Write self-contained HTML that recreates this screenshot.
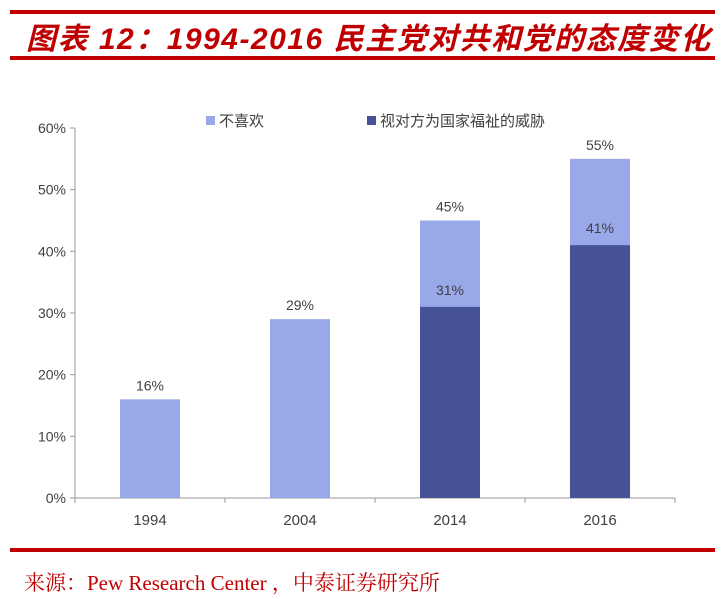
<!DOCTYPE html>
<html><head><meta charset="utf-8"><style>
body{margin:0;width:725px;height:599px;background:#fff;overflow:hidden;font-family:"Liberation Sans","Noto Sans CJK SC",sans-serif}
.title{position:absolute;left:26px;top:14px;font-size:30px;letter-spacing:1.5px;font-weight:bold;font-style:italic;color:#c00000;font-family:"Liberation Sans","Noto Sans CJK SC",sans-serif}
.line{position:absolute;left:10px;width:705px;height:4px;background:#c00000}
.src{position:absolute;left:24px;top:567px;font-size:21px;color:#c00000;font-family:"Liberation Serif","Noto Serif CJK SC",serif}
</style></head><body>
<div class="line" style="top:10px"></div>
<div class="title">图表 12：1994-2016 民主党对共和党的态度变化</div>
<div class="line" style="top:56px"></div>
<svg id="chart" width="725" height="599" style="position:absolute;left:0;top:0"></svg>
<div class="line" style="top:548px"></div>
<div class="src">来源：Pew Research Center ，中泰证券研究所</div>
<script>
const categories=["1994","2004","2014","2016"];
const dislike=[16,29,45,55];
const threat=[0,0,31,41];
const yTicks=[0,10,20,30,40,50,60];
const NS="http://www.w3.org/2000/svg";
const svg=document.getElementById('chart');
const x0=75,x1=675,yb=498,yt=128,yMax=60;
const band=(x1-x0)/categories.length,bw=60;
const y=v=>yb-(v/yMax)*(yb-yt);
const xc=i=>x0+band*(i+0.5);
function mk(t,a){const e=document.createElementNS(NS,t);for(const k in a)e.setAttribute(k,a[k]);svg.appendChild(e);return e;}
const ax=mk('line',{x1:x0,y1:yt,x2:x0,y2:yb,stroke:'#999'});


const bx=mk('line',{x1:x0,y1:yb,x2:x1,y2:yb,stroke:'#999'});


yTicks.forEach(v=>{
 const tk=mk('line',{x1:x0-5,y1:y(v),x2:x0,y2:y(v),stroke:'#999'});
 
 
 const t=mk('text',{x:x0-9,y:y(v)+5,'text-anchor':'end','font-size':14,fill:'#404040'});
 t.textContent=v+'%';
 
 
});
for(let i=0;i<=categories.length;i++){
 const tk=mk('line',{x1:x0+band*i,y1:yb,x2:x0+band*i,y2:yb+5,stroke:'#999'});
 
 
}
categories.forEach((c,i)=>{
 const b=mk('rect',{x:xc(i)-bw/2,y:y(dislike[i]),width:bw,height:yb-y(dislike[i]),fill:'#98a8e8'});
 
 
 const l=mk('text',{x:xc(i),y:y(dislike[i])-9,'text-anchor':'middle','font-size':14,fill:'#404040'});
 l.textContent=dislike[i]+'%';
 
 
 if(threat[i]>0){
  const b2=mk('rect',{x:xc(i)-bw/2,y:y(threat[i]),width:bw,height:yb-y(threat[i]),fill:'#465196'});
  
  
  const l2=mk('text',{x:xc(i),y:y(threat[i])-12,'text-anchor':'middle','font-size':14,fill:'#404040'});
  l2.textContent=threat[i]+'%';
  
  
 }
 const xl=mk('text',{x:xc(i),y:yb+27,'text-anchor':'middle','font-size':15,fill:'#404040'});
 xl.textContent=c;
 
 
});
const lg1=mk('rect',{x:206,y:116,width:9,height:9,fill:'#98a8e8'});


const lt1=mk('text',{x:219,y:126,'font-size':15,fill:'#404040'});
lt1.textContent='不喜欢';


const lg2=mk('rect',{x:367,y:116,width:9,height:9,fill:'#465196'});


const lt2=mk('text',{x:380,y:126,'font-size':15,fill:'#404040'});
lt2.textContent='视对方为国家福祉的威胁';


</script>
</body></html>
